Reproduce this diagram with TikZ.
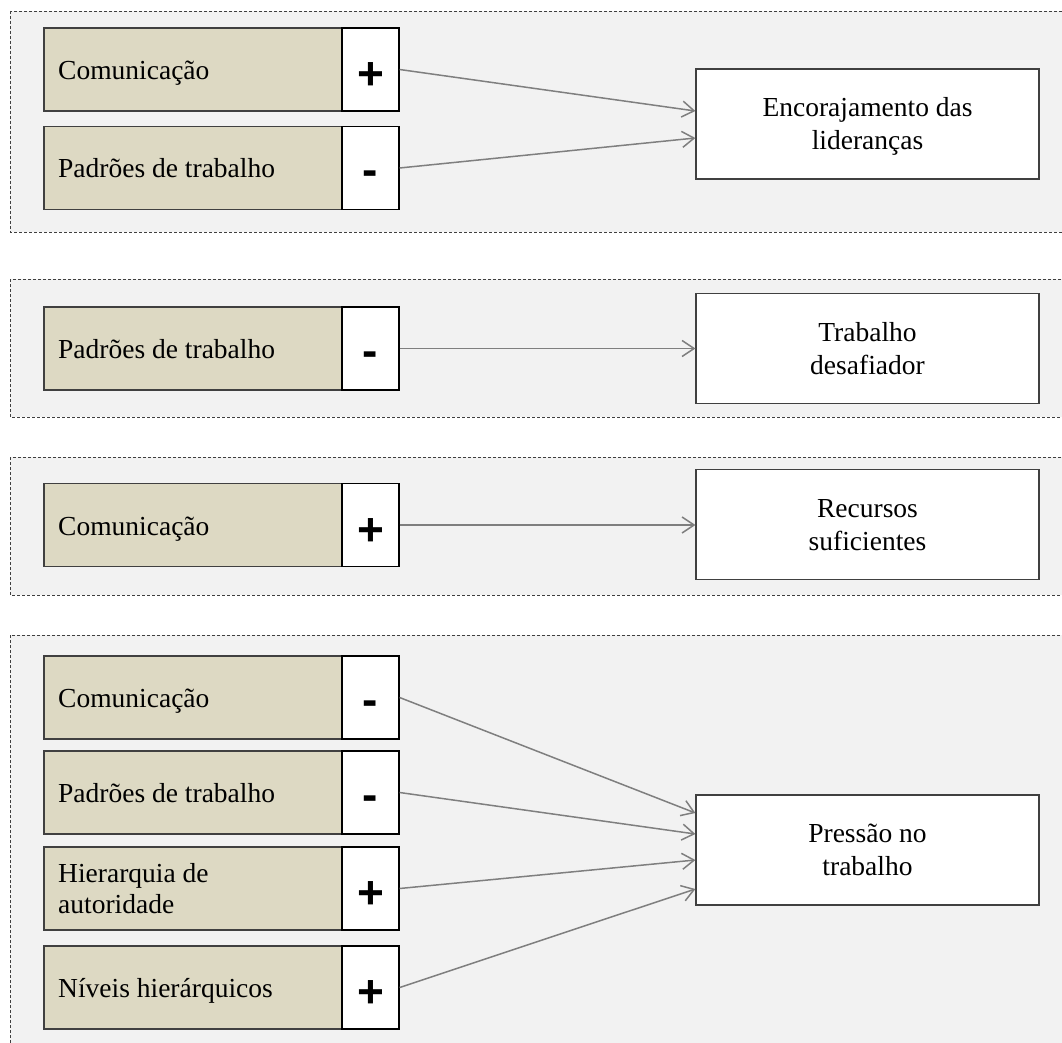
\documentclass[tikz,border=0pt]{standalone}
\usepackage{fontspec}
\setmainfont{Liberation Serif}
\newfontfamily\signfont{Liberation Sans}
\usetikzlibrary{arrows.meta,calc}
\definecolor{panelbg}{HTML}{F2F2F2}
\definecolor{panelline}{HTML}{3F3F3F}
\definecolor{tanfill}{HTML}{DDD9C3}
\definecolor{boxline}{HTML}{404040}
\definecolor{linkgray}{HTML}{7F7F7F}
\begin{document}
\begin{tikzpicture}[x=1pt,y=-1pt,
  panel/.style={draw=panelline, fill=panelbg, line width=0.9pt, dash pattern=on 3pt off 2pt},
  factor/.style={draw=boxline, fill=tanfill, line width=1.2pt, minimum width=298pt, minimum height=83pt, inner sep=0pt},
  signbox/.style={draw=black, fill=white, line width=1.2pt, minimum width=57pt, minimum height=83pt, inner sep=0pt},
  outcome/.style={draw=boxline, fill=white, line width=1.2pt, minimum width=343pt, minimum height=110pt, inner sep=0pt},
  lbl/.style={anchor=base west, inner sep=0pt, font=\fontsize{27.5}{31}\selectfont},
  olbl/.style={anchor=base, inner sep=0pt, font=\fontsize{27.5}{33}\selectfont},
  plus/.style={anchor=base, inner sep=0pt, font=\signfont\bfseries\fontsize{46}{46}\selectfont},
  link/.style={draw=linkgray, line width=1.5pt, -{Straight Barb[length=12pt,width=16pt]}}
]
\clip (0,0) rectangle (1062,1043);
\fill[white] (0,0) rectangle (1062,1043);

% dashed group panels
\draw[panel] (10,11) rectangle (1080,232);
\draw[panel] (10,279) rectangle (1080,417);
\draw[panel] (10,457) rectangle (1080,595);
\draw[panel] (10,635) rectangle (1080,1060);

% group 1: Encorajamento das lideranças
\node[factor] (f1) at (193,69.5) {};
\node[signbox] (s1) at (370.5,69.5) {};
\node[factor] (f2) at (193,168) {};
\node[signbox] (s2) at (370.5,168) {};
\node[outcome] (e1) at (867.5,124) {};
\node[lbl] (l1) at (58,79.5) {Comunicação};
\node[lbl] (l2) at (58,178) {Padrões de trabalho};
\node[plus] (g1) at (370.5,89.5) {+};
\node[plus] (g2) at (370.5,185.5) {-};
\node[olbl] (o1) at (867.5,117) {\begin{tabular}[t]{@{}c@{}}Encorajamento das\\lideranças\end{tabular}};

% group 2: Trabalho desafiador
\node[factor] (f3) at (193,348.5) {};
\node[signbox] (s3) at (370.5,348.5) {};
\node[outcome] (e2) at (867.5,348.5) {};
\node[lbl] (l3) at (58,358.5) {Padrões de trabalho};
\node[plus] (g3) at (370.5,366) {-};
\node[olbl] (o2) at (867.5,341) {\begin{tabular}[t]{@{}c@{}}Trabalho\\desafiador\end{tabular}};

% group 3: Recursos suficientes
\node[factor] (f4) at (193,525) {};
\node[signbox] (s4) at (370.5,525) {};
\node[outcome] (e3) at (867.5,524.5) {};
\node[lbl] (l4) at (58,535) {Comunicação};
\node[plus] (g4) at (370.5,545) {+};
\node[olbl] (o3) at (867.5,517) {\begin{tabular}[t]{@{}c@{}}Recursos\\suficientes\end{tabular}};

% group 4: Pressão no trabalho
\node[factor] (f5) at (193,697.5) {};
\node[signbox] (s5) at (370.5,697.5) {};
\node[factor] (f6) at (193,792.5) {};
\node[signbox] (s6) at (370.5,792.5) {};
\node[factor] (f7) at (193,888.5) {};
\node[signbox] (s7) at (370.5,888.5) {};
\node[factor] (f8) at (193,987.5) {};
\node[signbox] (s8) at (370.5,987.5) {};
\node[outcome] (e4) at (867.5,850) {};
\node[lbl] (l5) at (58,707.5) {Comunicação};
\node[lbl] (l6) at (58,802.5) {Padrões de trabalho};
\node[lbl] (l7) at (58,882) {\begin{tabular}[t]{@{}l@{}}Hierarquia de\\autoridade\end{tabular}};
\node[lbl] (l8) at (58,997.5) {Níveis hierárquicos};
\node[plus] (g5) at (370.5,715) {-};
\node[plus] (g6) at (370.5,810) {-};
\node[plus] (g7) at (370.5,908.5) {+};
\node[plus] (g8) at (370.5,1007.5) {+};
\node[olbl] (o4) at (867.5,842) {\begin{tabular}[t]{@{}c@{}}Pressão no\\trabalho\end{tabular}};

% influence links
\draw[link] (s1.east) -- ($(e1.west)+(0,-13)$);
\draw[link] (s2.east) -- ($(e1.west)+(0,14)$);
\draw[link] (s3.east) -- (e2.west);
\draw[link] (s4.east) -- (s4.east -| e3.west);
\draw[link] (s5.east) -- ($(e4.west)+(0,-37)$);
\draw[link] (s6.east) -- ($(e4.west)+(0,-16)$);
\draw[link] (s7.east) -- ($(e4.west)+(0,10)$);
\draw[link] (s8.east) -- ($(e4.west)+(0,39)$);
\end{tikzpicture}
\end{document}
